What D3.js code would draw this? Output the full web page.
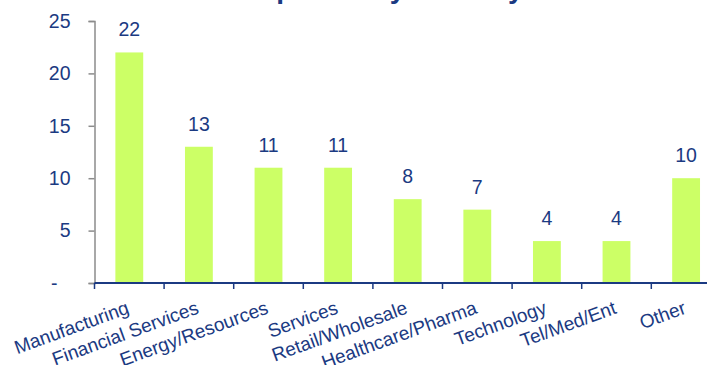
<!DOCTYPE html>
<html>
<head>
<meta charset="utf-8">
<script src="https://cdn.jsdelivr.net/npm/d3@7"></script>
<style>
  html, body { margin: 0; padding: 0; background: #fff; }
  svg { display: block; font-family: "Liberation Sans", Arial, sans-serif; }
</style>
</head>
<body>
<svg id="chart" width="707" height="365"></svg>
<script>
// Number of companies per industry
const categories = ["Manufacturing", "Financial Services", "Energy/Resources", "Services",
  "Retail/Wholesale", "Healthcare/Pharma", "Technology", "Tel/Med/Ent", "Other"];
const counts = [22, 13, 11, 11, 8, 7, 4, 4, 10];
const yTicks = [0, 5, 10, 15, 20, 25];
const titleText = "Companies by Industry";

const navy = "#1b3a82";
const barColor = "#ccff66";

const svg = d3.select("#chart");

const x = d3.scaleBand().domain(categories).range([94.5, 720.9]).paddingInner(0.6).paddingOuter(0.3);
const y = d3.scaleLinear().domain([0, 25]).range([283, 21]);

// Title (sits mostly above the visible area)
svg.append("text")
  .attr("x", 214).attr("y", -2)
  .attr("font-size", 28).attr("font-weight", "bold")
  .attr("fill", navy)
  .text(titleText);

// Bars
svg.append("g").selectAll("rect").data(counts).join("rect")
  .attr("x", (d, i) => x(categories[i]))
  .attr("y", d => y(d))
  .attr("width", x.bandwidth())
  .attr("height", d => y(0) - y(d))
  .attr("fill", barColor);

// Value labels
svg.append("g").selectAll("text").data(counts).join("text")
  .attr("x", (d, i) => x(categories[i]) + x.bandwidth() / 2)
  .attr("y", d => y(d) - 16)
  .attr("text-anchor", "middle")
  .attr("font-size", 19.5)
  .attr("fill", navy)
  .text(d => d);

// Y axis
const yAxis = svg.append("g")
  .attr("transform", "translate(94.5,0)")
  .call(d3.axisLeft(y).tickValues(yTicks).tickSize(6).tickPadding(18)
    .tickFormat(d => d === 0 ? "-" : d));
yAxis.select(".domain").attr("stroke", "#8c8c8c").attr("stroke-width", 1.5);
yAxis.selectAll(".tick line").attr("stroke", "#8c8c8c").attr("stroke-width", 1.5);
yAxis.selectAll(".tick text")
  .attr("font-size", 19.5)
  .attr("fill", navy)
  .attr("font-family", "Liberation Sans, Arial, sans-serif");
yAxis.selectAll(".tick text").filter(d => d === 0).attr("dx", -13);

// X axis with ticks at category boundaries
const bounds = categories.map(c => x(c) - x.step() * x.paddingInner() / 2);
const xAxisG = svg.append("g");
xAxisG.append("line")
  .attr("x1", 94.5).attr("x2", 707)
  .attr("y1", y(0)).attr("y2", y(0))
  .attr("stroke", navy).attr("stroke-width", 2);
xAxisG.selectAll("line.tk").data(bounds).join("line")
  .attr("class", "tk")
  .attr("x1", d => d).attr("x2", d => d)
  .attr("y1", y(0)).attr("y2", y(0) + 6)
  .attr("stroke", navy).attr("stroke-width", 1.5);

// Rotated category labels
svg.append("g").selectAll("text").data(categories).join("text")
  .attr("transform", d => `translate(${x(d) + x.bandwidth() / 2 + 1},313) rotate(-20)`)
  .attr("text-anchor", "end")
  .attr("font-size", 19)
  .attr("fill", navy)
  .text(d => d);
</script>
</body>
</html>
